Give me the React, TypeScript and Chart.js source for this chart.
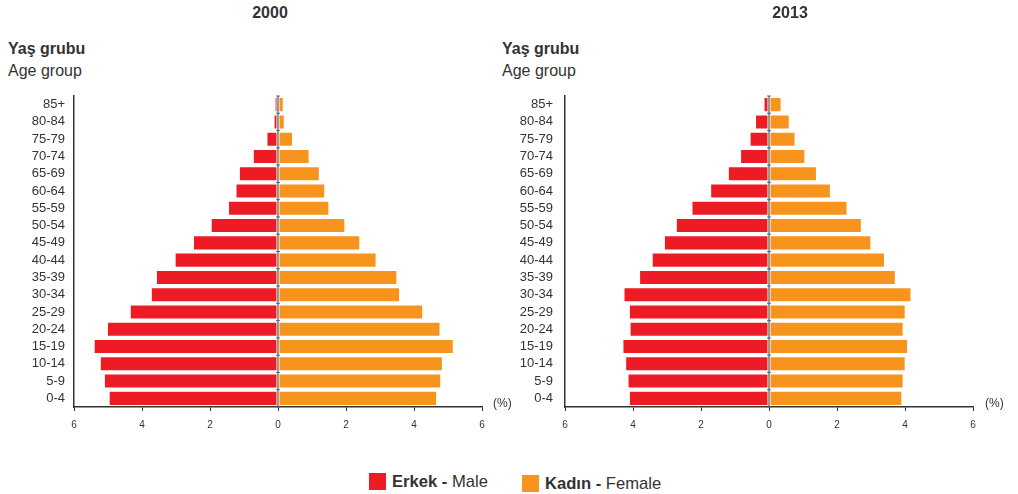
import React, { useEffect, useRef } from "react";
import { Chart, registerables } from "chart.js";

Chart.register(...registerables);

const ageGroups = ["85+", "80-84", "75-79", "70-74", "65-69", "60-64", "55-59", "50-54", "45-49", "40-44", "35-39", "30-34", "25-29", "20-24", "15-19", "10-14", "5-9", "0-4"];
const male2000 = [0.1, 0.13, 0.34, 0.74, 1.15, 1.25, 1.47, 1.98, 2.5, 3.04, 3.59, 3.74, 4.36, 5.03, 5.42, 5.24, 5.12, 4.98];
const female2000 = [0.17, 0.2, 0.44, 0.93, 1.23, 1.39, 1.51, 1.98, 2.42, 2.9, 3.51, 3.59, 4.27, 4.78, 5.17, 4.85, 4.8, 4.68];
const male2013 = [0.16, 0.41, 0.57, 0.85, 1.21, 1.73, 2.28, 2.74, 3.09, 3.45, 3.82, 4.28, 4.12, 4.1, 4.31, 4.23, 4.16, 4.12];
const female2013 = [0.37, 0.61, 0.78, 1.07, 1.41, 1.82, 2.31, 2.73, 3.01, 3.41, 3.73, 4.19, 4.02, 3.96, 4.09, 4.02, 3.96, 3.92];
const xTicks = [-6, -4, -2, 0, 2, 4, 6];

const RED = "#ED1C24";
const ORANGE = "#F7941D";
const TEXT = "#333333";
const FONT = "'Liberation Sans', Arial, sans-serif";

const centerLine = {
  id: "centerLine",
  afterDatasetsDraw(chart: any) {
    const x = chart.scales.x.getPixelForValue(0);
    const y = chart.scales.y;
    const ctx = chart.ctx;
    ctx.save();
    ctx.strokeStyle = TEXT;
    ctx.lineWidth = 1;
    ctx.beginPath();
    ctx.moveTo(x, chart.chartArea.top);
    ctx.lineTo(x, chart.chartArea.bottom);
    ctx.stroke();
    ctx.strokeStyle = "#666";
    ctx.beginPath();
    const n = y.ticks.length;
    for (let i = 0; i <= n; i++) {
      const p = y.getPixelForValue(i - 0.5);
      ctx.moveTo(x - 2, p);
      ctx.lineTo(x + 2, p);
    }
    ctx.stroke();
    ctx.restore();
  },
};

function Pyramid({ male, female, labelPad }: { male: number[]; female: number[]; labelPad: number }) {
  const ref = useRef<HTMLCanvasElement>(null);
  useEffect(() => {
    const chart = new Chart(ref.current!, {
      type: "bar",
      data: {
        labels: ageGroups,
        datasets: [
          {
            label: "Erkek - Male",
            data: male.map((v) => -v),
            backgroundColor: RED,
            borderColor: "rgba(255,255,255,0.45)",
            borderWidth: 1,
            borderSkipped: false,
            barPercentage: 0.87,
            categoryPercentage: 1,
          },
          {
            label: "Kadın - Female",
            data: female,
            backgroundColor: ORANGE,
            borderColor: "rgba(255,255,255,0.45)",
            borderWidth: 1,
            borderSkipped: false,
            barPercentage: 0.87,
            categoryPercentage: 1,
          },
        ],
      },
      options: {
        indexAxis: "y",
        animation: false,
        responsive: false,
        maintainAspectRatio: false,
        layout: { padding: { top: 6, right: 18, left: 0, bottom: 0 } },
        plugins: { legend: { display: false }, tooltip: { enabled: false }, title: { display: false } },
        scales: {
          x: {
            stacked: true,
            min: -6,
            max: 6,
            afterBuildTicks: (s: any) => {
              s.ticks = xTicks.map((v) => ({ value: v }));
            },
            afterFit: (s: any) => {
              s.height = 33;
              s.paddingLeft = 0;
              s.paddingRight = 0;
            },
            ticks: {
              callback: (v: any) => String(Math.abs(Number(v))),
              font: { family: FONT, size: 10 },
              color: TEXT,
              padding: 8,
              maxRotation: 0,
            },
            grid: { drawOnChartArea: false, drawTicks: true, tickLength: 4, color: TEXT },
            border: { display: true, color: TEXT, width: 1.5 },
          },
          y: {
            stacked: true,
            afterFit: (s: any) => {
              s.width = 74;
              s.paddingTop = 0;
              s.paddingBottom = 0;
            },
            ticks: {
              font: { family: FONT, size: 13 },
              color: TEXT,
              padding: labelPad,
              autoSkip: false,
            },
            grid: { display: false, drawTicks: false },
            border: { display: true, color: TEXT, width: 1.5 },
          },
        },
      },
      plugins: [centerLine],
    } as any);
    return () => chart.destroy();
  }, []);
  return <canvas ref={ref} width={500} height={350} style={{ width: 500, height: 350, display: "block" }} />;
}

const abs = (l: number, t: number): React.CSSProperties => ({ position: "absolute", left: l, top: t, whiteSpace: "nowrap" });

export default function App() {
  return (
    <div style={{ position: "fixed", left: 0, top: 0, width: 1018, height: 494, background: "#fff", fontFamily: FONT, color: TEXT }}>
      <div style={{ ...abs(0, 4), width: 540, textAlign: "center", fontWeight: "bold", fontSize: 16 }}>2000</div>
      <div style={{ ...abs(520, 4), width: 540, textAlign: "center", fontWeight: "bold", fontSize: 16 }}>2013</div>
      <div style={{ ...abs(8, 40), fontWeight: "bold", fontSize: 16 }}>Yaş grubu</div>
      <div style={{ ...abs(8, 62), fontSize: 16 }}>Age group</div>
      <div style={{ ...abs(502, 40), fontWeight: "bold", fontSize: 16 }}>Yaş grubu</div>
      <div style={{ ...abs(502, 62), fontSize: 16 }}>Age group</div>
      <div style={abs(0, 90)}>
        <Pyramid male={male2000} female={female2000} labelPad={9} />
      </div>
      <div style={abs(491, 90)}>
        <Pyramid male={male2013} female={female2013} labelPad={12} />
      </div>
      <div style={{ ...abs(493, 396), fontSize: 12 }}>(%)</div>
      <div style={{ ...abs(985, 396), fontSize: 12 }}>(%)</div>
      <div style={{ ...abs(369, 473), width: 17, height: 17, background: RED }} />
      <div style={{ ...abs(392, 472), fontSize: 16.6 }}>
        <b>Erkek -</b> Male
      </div>
      <div style={{ ...abs(522, 475), width: 17, height: 17, background: ORANGE }} />
      <div style={{ ...abs(545, 474), fontSize: 16.6 }}>
        <b>Kadın -</b> Female
      </div>
    </div>
  );
}
